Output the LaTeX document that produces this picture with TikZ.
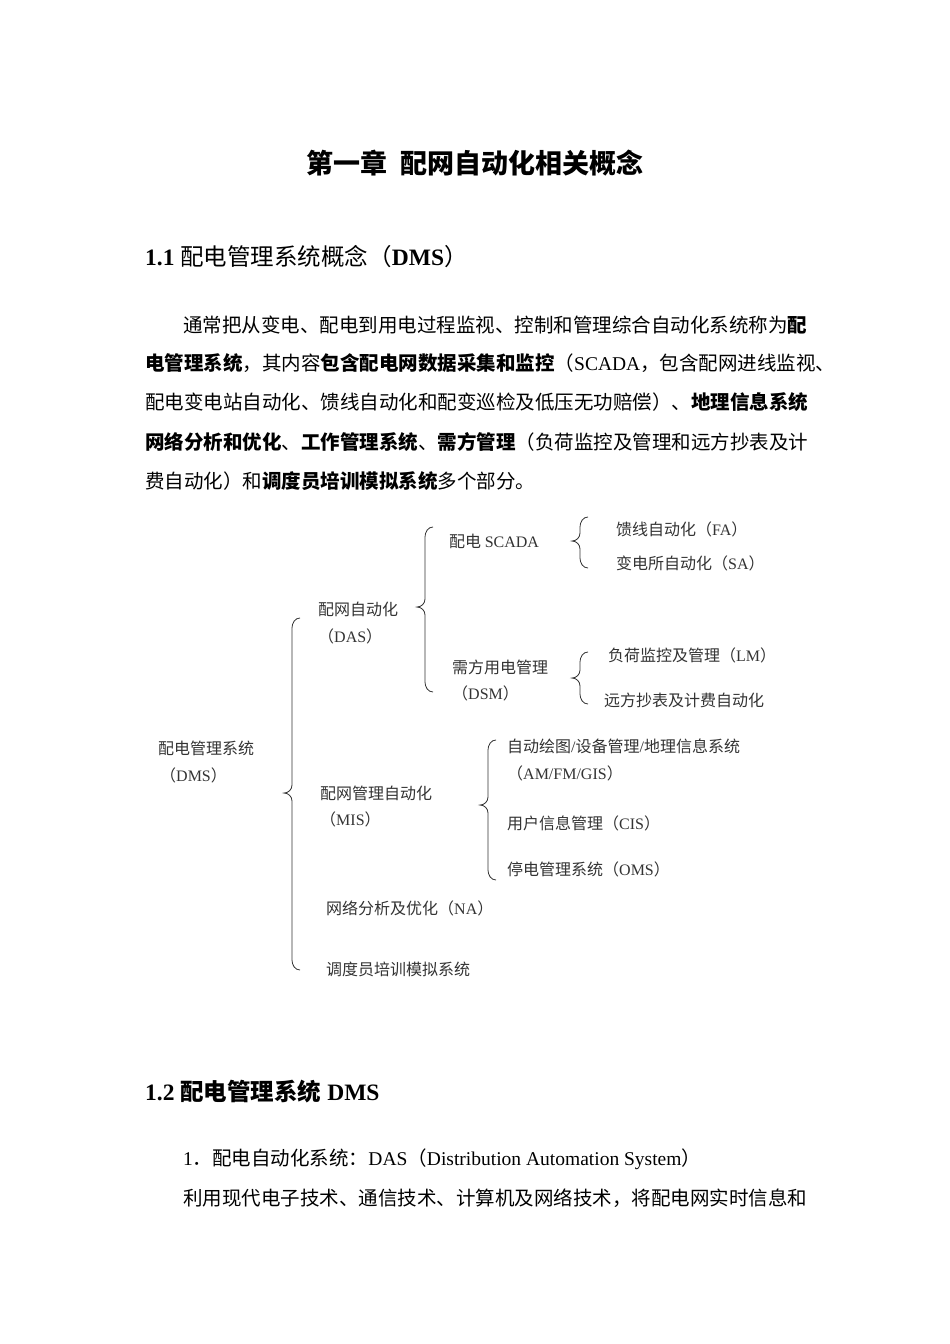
\documentclass[tikz,border=0pt]{standalone}
\usepackage{fontspec}
\setmainfont{Noto Sans CJK SC}
\newfontfamily\lat{Liberation Serif}
\newcommand{\Lt}[1]{{\lat #1}}
\newcommand{\mybrace}[4]{% x, top, tip, bottom
  \draw[br] (#1+8,#2) to[out=180,in=90] (#1,#2+10) -- (#1,#3-8) to[out=-90,in=0] (#1-8,#3)
   to[out=0,in=90] (#1,#3+8) -- (#1,#4-10) to[out=-90,in=180] (#1+8,#4);}
\begin{document}
\begin{tikzpicture}[x=1pt,y=-1pt,
  body/.style={anchor=west,inner sep=0,font=\fontsize{19.5}{19.5}\selectfont},
  dg/.style={anchor=west,inner sep=0,text=black!80,font=\fontsize{16}{16}\selectfont},
  br/.style={draw=black!80,line width=0.8pt}]
\useasboundingbox[fill=white] (0,0) rectangle (950,1344);
\node[inner sep=0,font=\fontsize{27}{27}\selectfont\bfseries] (title) at (475,163) {第一章\hspace{14pt}配网自动化相关概念};
\node[body,font=\fontsize{23.5}{23.5}\selectfont] (h1) at (145,257) {\Lt{\textbf{1.1 }}配电管理系统概念（\Lt{\textbf{DMS}}）};
\node[body] (p1) at (183,325) {通常把从变电、配电到用电过程监视、控制和管理综合自动化系统称为\textbf{配}};
\node[body] (p2) at (145,363) {\textbf{电管理系统}，其内容\textbf{包含配电网数据采集和监控}（\Lt{SCADA}，包含配网进线监视、};
\node[body] (p3) at (145,402) {配电变电站自动化、馈线自动化和配变巡检及低压无功赔偿）、\textbf{地理信息系统}};
\node[body] (p4) at (145,442) {\textbf{网络分析和优化}、\textbf{工作管理系统}、\textbf{需方管理}（负荷监控及管理和远方抄表及计};
\node[body] (p5) at (145,481) {费自动化）和\textbf{调度员培训模拟系统}多个部分。};
% diagram
\node[dg] (dms) at (158,748) {配电管理系统};
\node[dg] (dms2) at (160,775) {（\Lt{DMS}）};
\node[dg] (das) at (318,609) {配网自动化};
\node[dg] (das2) at (318,636) {（\Lt{DAS}）};
\node[dg] (scada) at (449,541) {配电 \Lt{SCADA}};
\node[dg] (fa) at (616,529) {馈线自动化（\Lt{FA}）};
\node[dg] (sa) at (616,563) {变电所自动化（\Lt{SA}）};
\node[dg] (dsm) at (452,667) {需方用电管理};
\node[dg] (dsm2) at (452,693) {（\Lt{DSM}）};
\node[dg] (lm) at (608,655) {负荷监控及管理（\Lt{LM}）};
\node[dg] (rm) at (604,700) {远方抄表及计费自动化};
\node[dg] (mis) at (320,793) {配网管理自动化};
\node[dg] (mis2) at (320,819) {（\Lt{MIS}）};
\node[dg] (gis) at (507,746) {自动绘图\Lt{/}设备管理\Lt{/}地理信息系统};
\node[dg] (gis2) at (507,773) {（\Lt{AM/FM/GIS}）};
\node[dg] (cis) at (507,823) {用户信息管理（\Lt{CIS}）};
\node[dg] (oms) at (507,869) {停电管理系统（\Lt{OMS}）};
\node[dg] (na) at (326,908) {网络分析及优化（\Lt{NA}）};
\node[dg] (dts) at (326,969) {调度员培训模拟系统};
% braces
\mybrace{292}{618}{793}{970}
\mybrace{425}{527}{607}{692}
\mybrace{580}{517}{541}{568}
\mybrace{580}{652}{678}{704}
\mybrace{488}{740}{805}{880}
\node[body,font=\fontsize{23.5}{23.5}\selectfont\bfseries] (h2) at (145,1092) {\Lt{\textbf{1.2 }}配电管理系统\Lt{\textbf{ DMS}}};
\node[body] (q1) at (183,1159) {\Lt{1}．配电自动化系统：\Lt{DAS}（\Lt{Distribution Automation System}）};
\node[body] (q2) at (183,1198) {利用现代电子技术、通信技术、计算机及网络技术，将配电网实时信息和};
\end{tikzpicture}
\end{document}
